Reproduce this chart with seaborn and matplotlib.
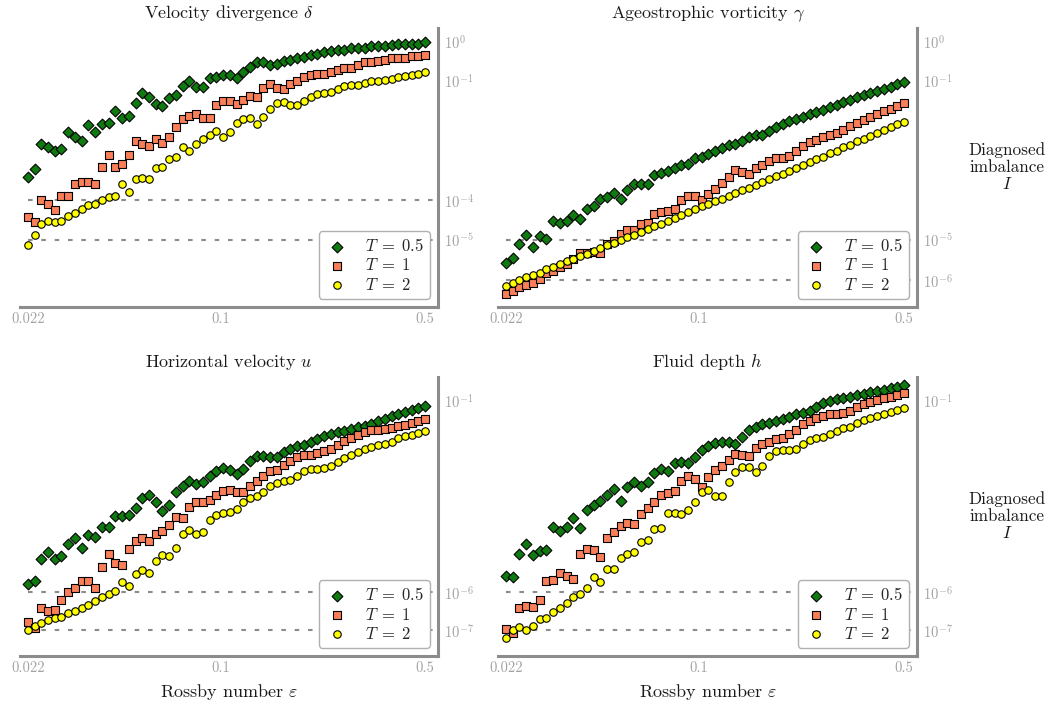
import matplotlib
matplotlib.use("Agg")
import numpy as np
import pandas as pd
import matplotlib.pyplot as plt
import seaborn as sns

# Rossby numbers (log-spaced experiment grid)
EPS = [0.02200, 0.02320, 0.02446, 0.02579, 0.02719, 0.02867, 0.03023, 0.03187, 0.03360, 0.03543,
       0.03735, 0.03939, 0.04153, 0.04379, 0.04617, 0.04868, 0.05132, 0.05411, 0.05706, 0.06016,
       0.06343, 0.06688, 0.07051, 0.07435, 0.07839, 0.08265, 0.08715, 0.09188, 0.09688, 0.1021,
       0.1077, 0.1136, 0.1197, 0.1262, 0.1331, 0.1403, 0.1480, 0.1560, 0.1645, 0.1734,
       0.1829, 0.1928, 0.2033, 0.2144, 0.2260, 0.2383, 0.2513, 0.2649, 0.2793, 0.2945,
       0.3105, 0.3274, 0.3452, 0.3640, 0.3838, 0.4046, 0.4266, 0.4498, 0.4743, 0.5000]

T_LABELS = ["$T\\;=\\;0.5$", "$T\\;=\\;1$", "$T\\;=\\;2$"]

# log10 of diagnosed imbalance
DELTA_T05 = [-3.42, -3.21, -2.58, -2.65, -2.75, -2.70, -2.28, -2.42, -2.50, -2.11, -2.29, -2.08, -2.05, -1.77, -1.93,
             -1.875, -1.57, -1.32, -1.40, -1.58, -1.625, -1.44, -1.36, -1.13, -1.02, -1.15, -1.15, -0.94, -0.90, -0.85,
             -0.86, -0.94, -0.79, -0.65, -0.525, -0.54, -0.60, -0.58, -0.50, -0.475, -0.44, -0.40, -0.36, -0.32, -0.27,
             -0.25, -0.23, -0.22, -0.19, -0.18, -0.17, -0.14, -0.125, -0.12, -0.10, -0.09, -0.08, -0.075, -0.07, -0.04]
DELTA_T1 = [-4.42, -4.54, -4.00, -4.10, -4.23, -3.89, -3.89, -3.58, -3.53, -3.54, -3.60, -3.16, -2.87, -3.15, -3.08,
            -2.85, -2.50, -2.58, -2.625, -2.45, -2.56, -2.42, -2.15, -1.96, -1.89, -1.84, -1.925, -1.94, -1.62, -1.50,
            -1.52, -1.58, -1.48, -1.39, -1.42, -1.18, -1.08, -1.18, -1.21, -1.08, -1.00, -0.90, -0.85, -0.83, -0.83,
            -0.775, -0.725, -0.69, -0.67, -0.61, -0.54, -0.52, -0.50, -0.47, -0.44, -0.42, -0.42, -0.39, -0.375, -0.35]
DELTA_T2 = [-5.11, -4.87, -4.60, -4.52, -4.53, -4.52, -4.38, -4.32, -4.21, -4.125, -4.10, -4.00, -3.92, -3.88, -3.59,
            -3.80, -3.46, -3.44, -3.47, -3.175, -3.15, -2.97, -2.92, -2.66, -2.75, -2.58, -2.47, -2.35, -2.25, -2.40,
            -2.275, -2.05, -1.96, -1.94, -2.08, -1.90, -1.72, -1.57, -1.53, -1.60, -1.60, -1.52, -1.42, -1.33, -1.32,
            -1.28, -1.21, -1.125, -1.11, -1.10, -1.07, -1.02, -1.00, -0.98, -0.96, -0.92, -0.88, -0.85, -0.82, -0.775]

GAMMA_T05 = [-5.56, -5.43, -5.10, -4.875, -5.17, -4.89, -4.975, -4.525, -4.57, -4.525, -4.375, -4.46, -4.21, -4.14, -3.96,
             -3.92, -3.82, -3.96, -3.73, -3.60, -3.58, -3.60, -3.36, -3.32, -3.275, -3.18, -3.10, -3.08, -2.94, -2.92,
             -2.83, -2.77, -2.68, -2.61, -2.58, -2.50, -2.40, -2.35, -2.35, -2.25, -2.17, -2.08, -2.02, -1.95, -1.92,
             -1.83, -1.79, -1.725, -1.65, -1.60, -1.53, -1.48, -1.42, -1.36, -1.31, -1.255, -1.20, -1.15, -1.095, -1.04]
GAMMA_T1 = [-6.35, -6.275, -6.18, -6.125, -6.07, -5.98, -5.81, -5.77, -5.68, -5.60, -5.46, -5.32, -5.32, -5.29, -5.32,
            -5.08, -5.02, -4.85, -4.75, -4.73, -4.60, -4.56, -4.33, -4.29, -4.27, -4.225, -3.98, -3.89, -3.89, -4.00,
            -3.85, -3.72, -3.57, -3.42, -3.25, -3.29, -3.35, -3.19, -3.11, -3.00, -2.93, -2.93, -2.875, -2.77, -2.625,
            -2.525, -2.48, -2.40, -2.35, -2.32, -2.23, -2.125, -2.06, -1.98, -1.90, -1.83, -1.77, -1.70, -1.64, -1.57]
GAMMA_T2 = [-6.14, -6.07, -6.00, -5.93, -5.875, -5.81, -5.73, -5.67, -5.60, -5.53, -5.47, -5.40, -5.33, -5.27, -5.20,
            -5.125, -5.06, -5.00, -4.925, -4.86, -4.79, -4.725, -4.65, -4.58, -4.51, -4.43, -4.36, -4.29, -4.22, -4.15,
            -4.08, -4.02, -3.96, -3.89, -3.82, -3.75, -3.68, -3.61, -3.54, -3.47, -3.40, -3.33, -3.26, -3.19, -3.11,
            -3.04, -2.97, -2.90, -2.82, -2.75, -2.67, -2.60, -2.52, -2.45, -2.375, -2.305, -2.235, -2.165, -2.095, -2.025]

U_T05 = [-5.79, -5.72, -5.13, -4.96, -5.13, -5.07, -4.75, -4.60, -4.86, -4.50, -4.57, -4.31, -4.30, -4.01, -4.01,
         -3.98, -3.81, -3.55, -3.46, -3.65, -3.88, -3.72, -3.40, -3.24, -3.11, -3.18, -3.14, -2.98, -2.83, -2.76,
         -2.81, -2.91, -2.79, -2.59, -2.44, -2.44, -2.49, -2.48, -2.36, -2.27, -2.20, -2.16, -2.09, -2.00, -1.92,
         -1.87, -1.82, -1.79, -1.75, -1.70, -1.66, -1.61, -1.53, -1.48, -1.42, -1.355, -1.31, -1.26, -1.21, -1.14]
U_T1 = [-6.77, -6.94, -6.43, -6.50, -6.48, -6.20, -6.01, -5.89, -5.70, -5.72, -5.89, -5.36, -5.01, -5.24, -5.29,
        -4.87, -4.66, -4.59, -4.68, -4.48, -4.42, -4.26, -4.03, -4.07, -3.79, -3.64, -3.66, -3.61, -3.47, -3.36,
        -3.33, -3.40, -3.39, -3.23, -3.11, -2.98, -2.83, -2.81, -2.68, -2.57, -2.49, -2.43, -2.42, -2.37, -2.33,
        -2.27, -2.16, -2.07, -1.98, -1.895, -1.825, -1.78, -1.765, -1.74, -1.72, -1.68, -1.65, -1.59, -1.55, -1.485]
U_T2 = [-6.98, -6.90, -6.81, -6.74, -6.69, -6.65, -6.55, -6.50, -6.42, -6.34, -6.23, -6.13, -6.05, -5.98, -5.73,
        -5.85, -5.53, -5.42, -5.50, -5.18, -5.03, -5.07, -4.86, -4.49, -4.39, -4.49, -4.43, -4.12, -3.99, -3.94,
        -3.90, -3.83, -3.65, -3.55, -3.50, -3.39, -3.23, -3.16, -3.10, -3.09, -2.98, -2.85, -2.79, -2.78, -2.76,
        -2.70, -2.62, -2.50, -2.42, -2.35, -2.27, -2.22, -2.16, -2.14, -2.08, -1.99, -1.94, -1.895, -1.85, -1.81]

H_T05 = [-5.575, -5.60, -5.02, -4.76, -5.04, -4.93, -4.90, -4.30, -4.40, -4.31, -4.06, -4.34, -3.86, -3.73, -3.62,
         -3.47, -3.32, -3.63, -3.27, -3.12, -3.23, -3.14, -2.90, -2.79, -2.84, -2.64, -2.60, -2.64, -2.47, -2.30,
         -2.19, -2.10, -2.08, -2.08, -2.14, -1.96, -1.77, -1.69, -1.625, -1.58, -1.53, -1.48, -1.43, -1.36, -1.32,
         -1.27, -1.17, -1.08, -1.01, -0.965, -0.93, -0.905, -0.87, -0.835, -0.79, -0.755, -0.72, -0.685, -0.65, -0.61]
H_T1 = [-6.965, -7.06, -6.43, -6.365, -6.40, -6.22, -5.705, -5.69, -5.51, -5.575, -5.67, -5.01, -4.88, -4.90, -5.08,
        -4.59, -4.44, -4.28, -4.21, -4.23, -3.97, -3.82, -3.64, -3.47, -3.425, -3.36, -3.10, -2.97, -3.05, -3.27,
        -3.01, -2.82, -2.71, -2.56, -2.41, -2.43, -2.44, -2.25, -2.14, -2.08, -2.02, -1.97, -1.89, -1.76, -1.625,
        -1.54, -1.47, -1.41, -1.36, -1.36, -1.34, -1.27, -1.18, -1.10, -1.035, -0.99, -0.945, -0.90, -0.855, -0.81]
H_T2 = [-7.21, -6.99, -6.92, -6.99, -6.88, -6.71, -6.69, -6.53, -6.41, -6.28, -6.14, -6.06, -5.90, -5.62, -5.73,
        -5.41, -5.40, -5.12, -5.01, -4.95, -4.69, -4.64, -4.35, -4.34, -3.95, -3.93, -3.97, -3.86, -3.66, -3.38,
        -3.34, -3.50, -3.49, -3.14, -2.86, -2.75, -2.75, -2.88, -2.71, -2.45, -2.32, -2.30, -2.30, -2.27, -2.15,
        -2.03, -1.97, -1.95, -1.88, -1.79, -1.73, -1.69, -1.60, -1.51, -1.45, -1.40, -1.35, -1.30, -1.245, -1.19]

TITLES = ["Velocity divergence $\\delta$", "Ageostrophic vorticity $\\gamma$",
          "Horizontal velocity $u$", "Fluid depth $h$"]
XTICKS = [0.022, 0.1, 0.5]
XTICKLABELS = ["0.022", "0.1", "0.5"]
YTICK_EXP = [[0, -1, -4, -5], [0, -1, -5, -6], [-1, -6, -7], [-1, -6, -7]]
DASHED_EXP = [[-4, -5], [-5, -6], [-6, -7], [-6, -7]]
YLIM_EXP = [(-6.67, 0.32), (-6.67, 0.32), (-7.67, -0.39), (-7.67, -0.39)]

SERIES = [(DELTA_T05, DELTA_T1, DELTA_T2), (GAMMA_T05, GAMMA_T1, GAMMA_T2),
          (U_T05, U_T1, U_T2), (H_T05, H_T1, H_T2)]

sns.set_style("white")
plt.rcParams.update({
    "font.family": "serif",
    "font.serif": ["cmr10"],
    "mathtext.fontset": "cm",
    "axes.unicode_minus": False,
    "axes.formatter.use_mathtext": True,
})

STYLES = [dict(marker="D", color="#0f7a0f", s=30),
          dict(marker="s", color="#fa7f58", s=31),
          dict(marker="o", color="#ffff00", s=29)]

GRAY = "#8c8c8c"
LABELGRAY = "#a3a3a3"

W, H = 1051, 711
fig = plt.figure(figsize=(W / 100, H / 100), dpi=100)
positions = [
    [20 / W, 1 - 307 / H, 418 / W, 279 / H],
    [498 / W, 1 - 307 / H, 419 / W, 279 / H],
    [20 / W, 1 - 656 / H, 418 / W, 279 / H],
    [498 / W, 1 - 656 / H, 419 / W, 279 / H],
]

eps = np.array(EPS)
for k in range(4):
    ax = fig.add_axes(positions[k])
    ax.set(xscale="log", yscale="log")
    x_lo, x_hi = 0.0207, 0.553
    ax.set_xlim(x_lo, x_hi)
    ax.set_ylim(10.0 ** YLIM_EXP[k][0], 10.0 ** YLIM_EXP[k][1])

    for e in DASHED_EXP[k]:
        ax.hlines(10.0 ** e, EPS[0], x_hi, colors=GRAY, linestyles=(0, (2.2, 4.2)),
                  linewidth=1.5, zorder=1)

    for vals, lab, st in zip(SERIES[k], T_LABELS, STYLES):
        df = pd.DataFrame({"eps": eps, "I": 10.0 ** np.array(vals)})
        sns.scatterplot(data=df, x="eps", y="I", ax=ax, marker=st["marker"],
                        color=st["color"], s=st["s"], edgecolor="black",
                        linewidth=0.8, label=lab, zorder=3)

    ax.set_xticks(XTICKS)
    ax.set_xticklabels(XTICKLABELS)
    yt = [10.0 ** e for e in YTICK_EXP[k]]
    ax.set_yticks(yt)
    ax.set_yticklabels(["$10^{%d}$" % e for e in YTICK_EXP[k]])
    ax.minorticks_off()
    ax.yaxis.tick_right()
    ax.tick_params(axis="both", which="major", direction="in", length=5, width=1.5,
                   color=GRAY, labelcolor=LABELGRAY, labelsize=10.5, pad=4)

    sns.despine(ax=ax, left=True, top=True, right=False, bottom=False)
    for side in ("right", "bottom"):
        ax.spines[side].set_color(GRAY)
        ax.spines[side].set_linewidth(2.2)

    ax.set_title(TITLES[k], fontsize=13, pad=7, color="#1a1a1a")
    ax.set_xlabel("Rossby number $\\varepsilon$" if k >= 2 else "", fontsize=13,
                  color="#1a1a1a", labelpad=5)
    if k % 2 == 1:
        ax.yaxis.set_label_position("right")
        ax.set_ylabel("Diagnosed\nimbalance\n$I$", rotation=0, fontsize=12.3,
                      color="#1a1a1a", ha="center", va="center", linespacing=1.1)
        ax.yaxis.set_label_coords(1.215, 0.5)
    else:
        ax.set_ylabel("")

    leg = ax.legend(loc="lower right", fontsize=12, frameon=True, fancybox=True,
                    edgecolor="#b0b0b0", framealpha=1, borderaxespad=0.5,
                    labelspacing=0.2, handletextpad=0.9, handlelength=1.5,
                    borderpad=0.35)
    leg.get_frame().set_linewidth(1.0)

fig.savefig("out.png", dpi=100)
